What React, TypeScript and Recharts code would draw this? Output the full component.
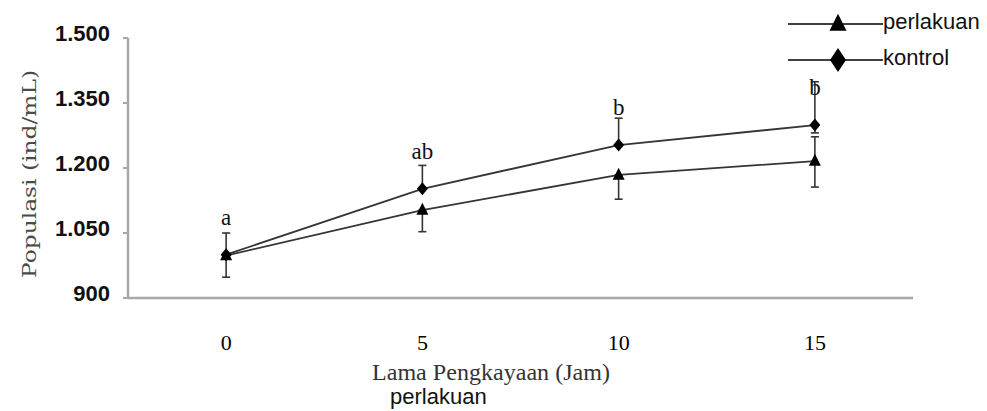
import React from 'react';
import { LineChart, Line, XAxis, YAxis, ErrorBar, LabelList } from 'recharts';

// Lama pengkayaan (jam)
const hours = [0, 5, 10, 15];
const kontrol = [1000, 1152, 1253, 1299];
const perlakuan = [998, 1103, 1184, 1216];
// error bars as [below, above]
const kontrolErr = [[0, 50], [0, 54], [0, 62], [18, 100]];
const perlakuanErr = [[50, 0], [50, 0], [56, 0], [60, 56]];
const signif = ['a', 'ab', 'b', 'b'];
const yTicks = [900, 1050, 1200, 1350, 1500];
const xTicks = [0, 5, 10, 15];

const data = hours.map((h, i) => ({
  x: h,
  kontrol: kontrol[i],
  perlakuan: perlakuan[i],
  errK: kontrolErr[i],
  errP: perlakuanErr[i],
  sig: signif[i],
}));

const LINE = '#353535';
const AXIS = '#a8a8a8';

const fmt = (v: number) =>
  v >= 1000 ? `${Math.floor(v / 1000)}.${String(v % 1000).padStart(3, '0')}` : String(v);

const Triangle = (props: any) => {
  const { cx, cy, w = 12, h = 12 } = props;
  if (cx == null || cy == null) return null;
  return (
    <polygon
      points={`${cx},${cy - h * 0.6} ${cx - w / 2},${cy + h * 0.4} ${cx + w / 2},${cy + h * 0.4}`}
      fill="#000"
    />
  );
};

const Diamond = (props: any) => {
  const { cx, cy, w = 11, h = 13 } = props;
  if (cx == null || cy == null) return null;
  return (
    <polygon
      points={`${cx},${cy - h / 2} ${cx + w / 2},${cy} ${cx},${cy + h / 2} ${cx - w / 2},${cy}`}
      fill="#000"
    />
  );
};

const legendItems = [
  { name: 'perlakuan', y: 24, Marker: Triangle, w: 17, h: 17 },
  { name: 'kontrol', y: 60, Marker: Diamond, w: 16, h: 24 },
];

export default function App() {
  return (
    <div style={{ position: 'absolute', left: 0, top: 0, width: 987, height: 411, background: '#fff' }}>
      <LineChart width={987} height={411} data={data} margin={{ top: 38, right: 74, bottom: 83, left: 0 }}>
        <XAxis
          dataKey="x"
          type="number"
          domain={[-2.5, 17.5]}
          ticks={xTicks}
          allowDataOverflow
          height={30}
          tickLine={false}
          tickSize={0}
          tickMargin={36}
          axisLine={{ stroke: AXIS, strokeWidth: 2.5 }}
          tick={{ fontFamily: 'Liberation Serif', fontSize: 22, fill: '#000' }}
        />
        <YAxis
          type="number"
          domain={[900, 1500]}
          ticks={yTicks}
          allowDataOverflow
          width={128}
          tickSize={5}
          tickMargin={13}
          tickFormatter={fmt}
          axisLine={{ stroke: AXIS, strokeWidth: 2.5 }}
          tickLine={{ stroke: AXIS, strokeWidth: 2 }}
          tick={{ fontFamily: 'Liberation Sans', fontSize: 22, fontWeight: 700, fill: '#111', dy: -5 }}
        />
        <Line
          dataKey="perlakuan"
          type="linear"
          stroke={LINE}
          strokeWidth={1.8}
          isAnimationActive={false}
          dot={(p: any) => <Triangle key={`t-${p.index}`} cx={p.cx} cy={p.cy} />}
          activeDot={false}
        >
          <ErrorBar dataKey="errP" direction="y" width={4} stroke={LINE} strokeWidth={1.6} />
        </Line>
        <Line
          dataKey="kontrol"
          type="linear"
          stroke={LINE}
          strokeWidth={1.8}
          isAnimationActive={false}
          dot={(p: any) => <Diamond key={`d-${p.index}`} cx={p.cx} cy={p.cy} />}
          activeDot={false}
        >
          <ErrorBar dataKey="errK" direction="y" width={4} stroke={LINE} strokeWidth={1.6} />
          <LabelList
            dataKey="sig"
            position="top"
            offset={30}
            style={{ fontFamily: 'Liberation Serif', fontSize: 23, fill: '#111' }}
          />
        </Line>
      </LineChart>

      <svg width={987} height={411} style={{ position: 'absolute', left: 0, top: 0, pointerEvents: 'none' }}>
        <text
          x={29}
          y={174}
          transform="rotate(-90 29 174)"
          textAnchor="middle"
          dominantBaseline="central"
          fontFamily="DejaVu Serif"
          fontSize={18}
          fill="#4a4a4a"
          textLength={208}
          lengthAdjust="spacingAndGlyphs"
        >
          Populasi (ind/mL)
        </text>
        <text
          x={491}
          y={372}
          textAnchor="middle"
          dominantBaseline="central"
          fontFamily="Liberation Serif"
          fontSize={24}
          fill="#333"
          textLength={238}
          lengthAdjust="spacingAndGlyphs"
        >
          Lama Pengkayaan (Jam)
        </text>
        <text x={390} y={396} dominantBaseline="central" fontFamily="Liberation Sans" fontSize={22} fill="#111">
          perlakuan
        </text>
        {legendItems.map(({ name, y, Marker, w, h }) => (
          <g key={name}>
            <line x1={788} x2={883} y1={y} y2={y} stroke="#000" strokeWidth={1.5} />
            <Marker cx={838} cy={y} w={w} h={h} />
            <text x={883} y={y - 3} dominantBaseline="central" fontFamily="Liberation Sans" fontSize={22} fill="#111">
              {name}
            </text>
          </g>
        ))}
      </svg>
    </div>
  );
}
